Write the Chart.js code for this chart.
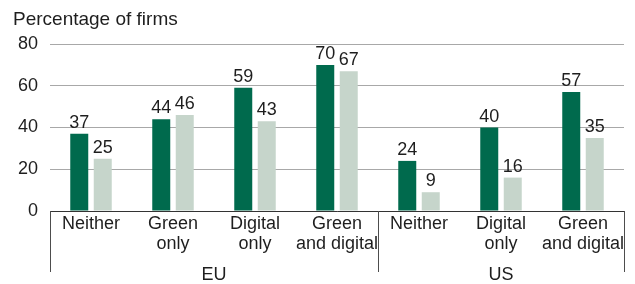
<!DOCTYPE html>
<html><head><meta charset="utf-8">
<script src="https://cdn.jsdelivr.net/npm/chart.js@4/dist/chart.umd.min.js"></script>
<style>html,body{margin:0;padding:0;background:#fff}#wrap{width:635px;height:284px;position:relative}</style>
</head><body><div id="wrap"><canvas id="c" width="635" height="284"></canvas></div>
<script>
const categories = [["Neither"],["Green","only"],["Digital","only"],["Green","and digital"],["Neither"],["Digital","only"],["Green","and digital"]];
const regions = ["EU","US"];
const regionSizes = [4,3];
const seriesDark = [37,44,59,70,24,40,57];
const seriesLight = [25,46,43,67,9,16,35];
const yTicks = [0,20,40,60,80];
const yTitle = "Percentage of firms";

const FONT = "'Liberation Sans', Arial, sans-serif";
const TXT = '#1e1e1e';

const extras = {
  id: 'extras',
  afterDatasetsDraw(chart) {
    const ctx = chart.ctx;
    ctx.save();
    ctx.font = '18px ' + FONT;
    ctx.fillStyle = TXT;
    ctx.textAlign = 'center';
    ctx.textBaseline = 'alphabetic';
    chart.data.datasets.forEach((ds, i) => {
      const meta = chart.getDatasetMeta(i);
      meta.data.forEach((el, j) => {
        ctx.fillText(String(ds.data[j]), el.x, el.y - 6);
      });
    });
    ctx.restore();
  },
  afterDraw(chart) {
    const ctx = chart.ctx;
    const xs = chart.scales.x;
    const area = chart.chartArea;
    ctx.save();
    // title
    ctx.font = '19px ' + FONT;
    ctx.fillStyle = TXT;
    ctx.textAlign = 'left';
    ctx.textBaseline = 'alphabetic';
    ctx.fillText(yTitle, 13, 25);
    // separators and group labels
    ctx.font = '18px ' + FONT;
    const half = (xs.getPixelForValue(1) - xs.getPixelForValue(0)) / 2;
    let idx = 0;
    const bounds = [];
    regions.forEach((r, k) => {
      const start = xs.getPixelForValue(idx) - half;
      const end = xs.getPixelForValue(idx + regionSizes[k] - 1) + half;
      bounds.push(start, end);
      ctx.textAlign = 'center';
      ctx.fillText(r, (start + end) / 2, 280);
      idx += regionSizes[k];
    });
    ctx.strokeStyle = '#4d4d4d';
    ctx.lineWidth = 1;
    const uniq = [...new Set(bounds.map(b => Math.round(b)))];
    uniq.forEach(b => {
      ctx.beginPath();
      ctx.moveTo(b + 0.5, area.bottom);
      ctx.lineTo(b + 0.5, 272);
      ctx.stroke();
    });
    ctx.restore();
  }
};

new Chart(document.getElementById('c'), {
  type: 'bar',
  data: {
    labels: categories,
    datasets: [
      { data: seriesDark, backgroundColor: '#006a4d', categoryPercentage: 0.573, barPercentage: 0.766 },
      { data: seriesLight, backgroundColor: '#c6d5cb', categoryPercentage: 0.573, barPercentage: 0.766 }
    ]
  },
  options: {
    responsive: false,
    devicePixelRatio: 1,
    animation: false,
    layout: { padding: { left: 0, right: 11, top: 44, bottom: 0 } },
    plugins: { legend: { display: false }, tooltip: { enabled: false }, title: { display: false } },
    scales: {
      x: {
        grid: { display: false, drawTicks: false },
        border: { display: true, color: '#333', width: 1 },
        ticks: { autoSkip: false, maxRotation: 0, minRotation: 0, padding: 3, color: TXT, font: { family: FONT, size: 18, lineHeight: 1.1 } },
        afterFit(s) { s.height = 73; }
      },
      y: {
        min: 0, max: 80,
        afterBuildTicks(s) { s.ticks = yTicks.map(v => ({ value: v })); },
        grid: { color: '#a8a8a8', drawTicks: false, lineWidth: 1 },
        border: { display: false },
        ticks: { padding: 12, color: TXT, font: { family: FONT, size: 18 } },
        afterFit(s) { s.width = 50; }
      }
    }
  },
  plugins: [extras]
});
</script></body></html>
